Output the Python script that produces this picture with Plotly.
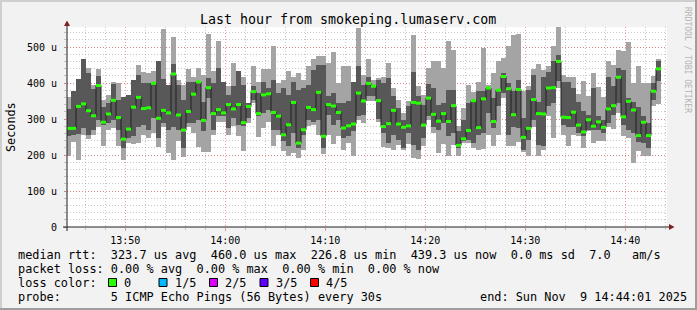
import plotly.graph_objects as go
import pandas as pd

# ---------------- data (microseconds) ----------------
START = "2025-11-09 13:44:04"
STEP_S = 30

ping_max = [361, 379, 411, 466, 442, 395, 439, 354, 367, 404, 400, 361, 367, 409, 451, 430, 428, 432, 460, 551,
            395, 528, 409, 395, 439, 417, 442, 423, 537, 432,
            516, 404, 391, 455, 432, 418, 344, 448, 404, 439, 439, 502, 400, 409, 432, 418, 428, 409, 446, 467,
            476, 476, 455, 486, 400, 448, 446, 404, 553, 423,
            467, 409, 414, 418, 455, 386, 352, 317, 349, 532, 391, 367, 442, 460, 460, 442, 516, 491, 280, 330,
            395, 374, 404, 497, 395, 428, 460, 469, 502, 534,
            537, 377, 391, 439, 454, 437, 446, 502, 555, 423, 418, 417, 370, 406, 363, 428, 388, 361, 460, 451,
            492, 490, 515, 400, 446, 400, 400, 420, 467]
ping_p4 = [328, 379, 411, 466, 428, 384, 420, 333, 344, 397, 354, 361, 367, 409, 423, 400, 400, 404, 460, 411,
           395, 454, 395, 354, 404, 404, 406, 346, 414, 400,
           442, 404, 367, 391, 432, 395, 344, 393, 372, 404, 386, 409, 372, 386, 367, 404, 381, 386, 395, 437,
           451, 451, 363, 372, 344, 344, 349, 404, 448, 395,
           418, 395, 409, 400, 414, 363, 330, 298, 335, 430, 363, 340, 398, 386, 340, 344, 381, 381, 266, 298,
           344, 354, 377, 377, 390, 358, 381, 428, 400, 377,
           409, 303, 381, 423, 346, 418, 430, 462, 479, 404, 404, 386, 346, 321, 312, 386, 307, 298, 418, 391,
           442, 437, 358, 346, 333, 307, 289, 400, 462]
median = [274, 274, 335, 342, 323, 309, 393, 291, 314, 352, 304, 244, 272, 333, 360, 329, 331, 399, 302, 324,
          317, 425, 311, 269, 321, 369, 403, 296, 387, 315,
          326, 317, 340, 328, 340, 290, 335, 376, 315, 367, 370, 318, 308, 256, 284, 346, 233, 270, 332, 326,
          374, 252, 340, 336, 318, 275, 281, 286, 372, 350,
          399, 391, 351, 279, 287, 324, 286, 277, 281, 346, 344, 283, 358, 313, 294, 315, 293, 337, 226.8, 245,
          268, 351, 276, 356, 386, 293, 380, 418, 384, 312,
          382, 249, 274, 354, 315, 314, 386, 387, 460, 305, 304, 319, 283, 264, 298, 280, 292, 277, 328, 337,
          416, 306, 349, 325, 254, 291, 254, 377, 439.3]
ping_p2 = [252, 256, 258, 275, 256, 270, 298, 284, 289, 298, 270, 219, 247, 252, 279, 284, 270, 303, 247, 289,
           270, 279, 270, 219, 289, 289, 298, 266, 358, 270,
           307, 307, 275, 303, 284, 281, 303, 354, 307, 317, 326, 270, 270, 238, 224, 261, 219, 256, 298, 293,
           298, 219, 312, 284, 298, 247, 252, 266, 307, 310,
           363, 363, 300, 261, 233, 256, 242, 219, 261, 229, 213, 247, 307, 279, 270, 289, 252, 261, 219, 238,
           242, 233, 256, 261, 317, 275, 335, 372, 256, 279,
           275, 215, 242, 298, 229, 226, 335, 344, 405, 284, 279, 279, 261, 252, 270, 270, 270, 261, 289, 312,
           344, 284, 270, 261, 235, 233, 219, 354, 405]
ping_min = [198, 235, 185, 256, 245, 256, 278, 226, 270, 275, 224, 187, 233, 230, 233, 256, 247, 261, 221, 279,
            205, 185, 238, 194, 278, 261, 222, 207, 207, 256,
            291, 293, 256, 281, 252, 210, 289, 344, 250, 275, 293, 226, 256, 210, 196, 205, 192, 215, 281, 284,
            256, 204, 256, 230, 252, 215, 233, 196, 298, 289,
            349, 349, 291, 221, 219, 215, 229, 213, 231, 191, 189, 226, 298, 261, 205, 231, 198, 229, 198, 233,
            233, 219, 215, 217, 256, 226, 256, 358, 224, 224,
            235, 207, 198, 279, 198, 215, 307, 247, 386, 256, 226, 256, 252, 219, 266, 233, 238, 238, 279, 272,
            317, 252, 247, 178, 210, 196, 196, 335, 342]

y_tick_vals = [0, 100, 200, 300, 400, 500]
y_tick_text = ["0", "100 u", "200 u", "300 u", "400 u", "500 u"]

loss_labels = ["0", "1/5", "2/5", "3/5", "4/5"]
loss_colors = ["#26ff00", "#00b8ff", "#dd00ff", "#5e00ff", "#ff0000"]

title_text = "Last hour from smokeping.lumaserv.com"
legend_lines = [
    "median rtt:  323.7 us avg  460.0 us max  226.8 us min  439.3 us now  0.0 ms sd  7.0   am/s",
    "packet loss: 0.00 % avg  0.00 % max  0.00 % min  0.00 % now",
    "loss color:",
    "probe:       5 ICMP Echo Pings (56 Bytes) every 30s",
]
end_text = "end: Sun Nov  9 14:44:01 2025"

# ---------------- geometry ----------------
W, H = 697, 310
PL, PR, PT, PB = 67, 667, 27, 227
Y_TOP = (PB - PT) / 0.36


def fx(px):
    return (px - PL) / (PR - PL)


def fy(py):
    return (PB - py) / (PB - PT)


n = len(median)
starts = pd.date_range(START, periods=n, freq=f"{STEP_S}s")
ends = starts + pd.Timedelta(seconds=STEP_S)
centers = starts + pd.Timedelta(seconds=STEP_S / 2)
width_ms = STEP_S * 1000

fig = go.Figure()
# outer smoke (min..max)
fig.add_trace(go.Bar(x=centers, base=ping_min, y=[a - b for a, b in zip(ping_max, ping_min)],
                     width=width_ms, marker=dict(color="#a4a4a4", line=dict(width=0)), hoverinfo="skip"))
# inner smoke (p2..p4)
fig.add_trace(go.Bar(x=centers, base=ping_p2, y=[a - b for a, b in zip(ping_p4, ping_p2)],
                     width=width_ms, marker=dict(color="#585858", line=dict(width=0)), hoverinfo="skip"))
# black median step line
sx = list(starts) + [ends[-1]]
sy = list(median) + [median[-1]]
fig.add_trace(go.Scatter(x=sx, y=sy, mode="lines", line=dict(color="#202020", width=1, shape="hv"),
                         hoverinfo="skip"))
# green median segments
gx, gy = [], []
for s, e, m in zip(starts, ends, median):
    gx += [s, e, None]
    gy += [m, m, None]
fig.add_trace(go.Scatter(x=gx, y=gy, mode="lines", line=dict(color=loss_colors[0], width=3),
                         hoverinfo="skip"))

MONO = "DejaVu Sans Mono"
GRID_MIN = "rgba(143,143,143,0.5)"
GRID_MAJ = "rgba(222,80,80,0.55)"
fig.update_layout(
    width=W, height=H,
    margin=dict(l=PL, r=W - PR, t=PT, b=H - PB, pad=0),
    paper_bgcolor="#f2f2f2", plot_bgcolor="#ffffff",
    barmode="overlay", bargap=0, showlegend=False,
    font=dict(family=MONO, size=10, color="#000000"),
)
fig.update_xaxes(
    type="date",
    range=["2025-11-09 13:44:10", "2025-11-09 14:44:10"],
    tickmode="linear", tick0="2025-11-09 13:50:00", dtick=600000, tickformat="%H:%M",
    showgrid=True, gridcolor=GRID_MAJ, griddash="1px,2px", gridwidth=1,
    ticks="outside", ticklen=3, tickcolor=GRID_MAJ, tickwidth=1,
    minor=dict(tick0="2025-11-09 13:50:00", dtick=120000, showgrid=True,
               gridcolor=GRID_MIN, griddash="1px,2px", gridwidth=1,
               ticks="outside", ticklen=2, tickcolor=GRID_MIN, tickwidth=1),
    showline=False, zeroline=False, ticklabelstandoff=1,
    tickfont=dict(family=MONO, size=10, color="#000000"), fixedrange=True,
)
fig.update_yaxes(
    range=[0, Y_TOP], tickmode="array", tickvals=y_tick_vals, ticktext=y_tick_text,
    showgrid=True, gridcolor=GRID_MAJ, griddash="1px,2px", gridwidth=1,
    ticks="outside", ticklen=2, tickcolor=GRID_MAJ, tickwidth=1,
    minor=dict(dtick=20, showgrid=True, gridcolor=GRID_MIN, griddash="1px,2px", gridwidth=1,
               ticks="outside", ticklen=2, tickcolor=GRID_MIN, tickwidth=1),
    showline=False, zeroline=False, ticklabelstandoff=5,
    tickfont=dict(family=MONO, size=10, color="#000000"), fixedrange=True,
)

shapes = []
# frame shading
shapes.append(dict(type="rect", xref="paper", yref="paper", x0=fx(0), x1=fx(W), y0=fy(0), y1=fy(2),
                   fillcolor="#cfcfcf", line=dict(width=0), layer="above"))
shapes.append(dict(type="rect", xref="paper", yref="paper", x0=fx(0), x1=fx(2), y0=fy(0), y1=fy(H),
                   fillcolor="#cfcfcf", line=dict(width=0), layer="above"))
shapes.append(dict(type="rect", xref="paper", yref="paper", x0=fx(0), x1=fx(W), y0=fy(H - 2), y1=fy(H),
                   fillcolor="#9e9e9e", line=dict(width=0), layer="above"))
shapes.append(dict(type="rect", xref="paper", yref="paper", x0=fx(W - 2), x1=fx(W), y0=fy(0), y1=fy(H),
                   fillcolor="#9e9e9e", line=dict(width=0), layer="above"))
# axes
shapes.append(dict(type="line", xref="paper", yref="paper", x0=fx(67), x1=fx(67), y0=fy(231), y1=fy(22),
                   line=dict(color="#1f1f1f", width=1), layer="above"))
shapes.append(dict(type="line", xref="paper", yref="paper", x0=fx(63), x1=fx(672), y0=fy(PB), y1=fy(PB),
                   line=dict(color="#1f1f1f", width=1), layer="above"))
# arrows
shapes.append(dict(type="path", xref="paper", yref="paper",
                   path=f"M {fx(64)} {fy(26)} L {fx(70)} {fy(26)} L {fx(67)} {fy(20.5)} Z",
                   fillcolor="#801f1f", line=dict(color="#801f1f", width=0), layer="above"))
shapes.append(dict(type="path", xref="paper", yref="paper",
                   path=f"M {fx(669)} {fy(224)} L {fx(669)} {fy(230)} L {fx(674.5)} {fy(227)} Z",
                   fillcolor="#801f1f", line=dict(color="#801f1f", width=0), layer="above"))
# loss colour boxes
box_x = [108.5, 159.0, 209.5, 260.0, 310.5]
for bx, col in zip(box_x, loss_colors):
    shapes.append(dict(type="rect", xref="paper", yref="paper", x0=fx(bx), x1=fx(bx + 8), y0=fy(278.5),
                       y1=fy(286.5), fillcolor=col, line=dict(color="#000000", width=1), layer="above"))

annotations = []
annotations.append(dict(text=title_text, xref="paper", yref="paper", x=fx(348), y=fy(19.5), xanchor="center",
                        yanchor="middle", showarrow=False, font=dict(family=MONO, size=13.3, color="#000000")))
annotations.append(dict(text="Seconds", xref="paper", yref="paper", x=fx(11), y=fy(127), xanchor="center",
                        yanchor="middle", textangle=-90, showarrow=False,
                        font=dict(family=MONO, size=11.8, color="#000000")))
annotations.append(dict(text="RRDTOOL / TOBI OETIKER", xref="paper", yref="paper", x=fx(688), y=fy(60),
                        xanchor="center", yanchor="middle", textangle=90, showarrow=False,
                        font=dict(family=MONO, size=8, color="#b4b4b4")))
line_y = [254.5, 268.5, 282.5, 296.5]
for txt, ly in zip(legend_lines, line_y):
    annotations.append(dict(text=txt.replace(" ", "\u00a0"), xref="paper", yref="paper", x=fx(15.5), y=fy(ly),
                            xanchor="left", yanchor="middle", showarrow=False,
                            font=dict(family=MONO, size=11.86, color="#000000")))
for lab, bx in zip(loss_labels, box_x):
    annotations.append(dict(text=lab, xref="paper", yref="paper", x=fx(bx + 13.5), y=fy(282.5),
                            xanchor="left", yanchor="middle", showarrow=False,
                            font=dict(family=MONO, size=11.86, color="#000000")))
annotations.append(dict(text=end_text.replace(" ", "\u00a0"), xref="paper", yref="paper", x=fx(478), y=fy(296.5),
                        xanchor="left", yanchor="middle", showarrow=False,
                        font=dict(family=MONO, size=11.86, color="#000000")))

fig.update_layout(shapes=shapes, annotations=annotations)
fig.write_html("out.html")
